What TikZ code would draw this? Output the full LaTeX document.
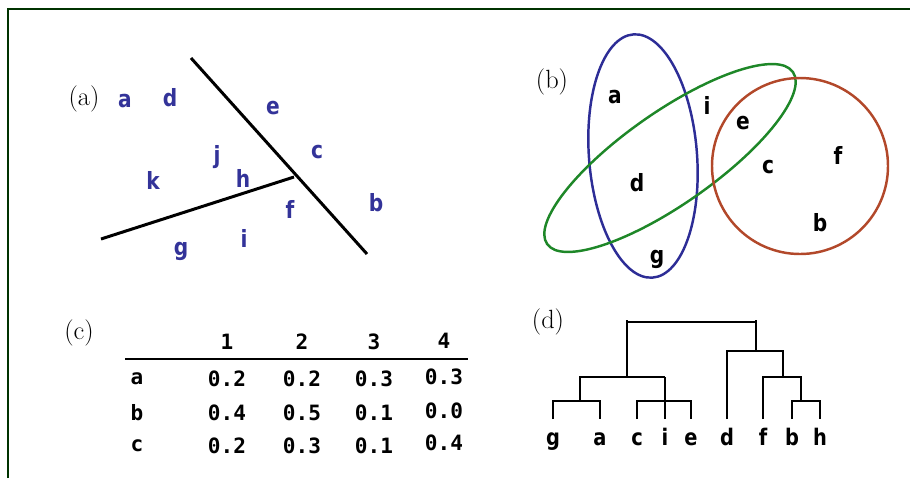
\documentclass[tikz,border=0pt]{standalone}
\usepackage{fontspec}
\newfontfamily\pixfont{DejaVu Sans}[FakeStretch=0.85]
\newfontfamily\pixmono{DejaVu Sans Mono}
\usetikzlibrary{calc}
\definecolor{framegreen}{RGB}{0,51,0}
\definecolor{ptblue}{RGB}{51,51,153}
\definecolor{setblue}{RGB}{45,45,150}
\definecolor{setgreen}{RGB}{30,135,40}
\definecolor{setred}{RGB}{178,72,42}
\tikzset{
  panel/.style={font=\fontsize{15}{18}\selectfont,inner sep=0pt},
  pt/.style={font=\pixfont\bfseries\fontsize{13.5}{15}\selectfont,text=ptblue,inner sep=0pt},
  mem/.style={font=\pixfont\bfseries\fontsize{13.5}{15}\selectfont,text=black,inner sep=0pt},
  leaf/.style={font=\pixfont\bfseries\fontsize{13}{15}\selectfont,anchor=base,inner sep=0pt},
  cell/.style={font=\pixmono\bfseries\fontsize{12}{14}\selectfont,inner sep=0pt},
  tree/.style={line width=1.1pt},
}

\begin{document}
\begin{tikzpicture}[x=0.02cm,y=-0.02cm]
        \useasboundingbox (0,0) rectangle (910,478);
        \draw[color=framegreen,line width=1.5pt] (8,478) -- (8,9) -- (910,9);

        \node[panel] (la) at (84,99) {(a)};
        \node[pt] (a1) at (125,101) {a};
        \node[pt] (d1) at (170,98) {d};
        \node[pt] (e1) at (273,108) {e};
        \node[pt] (c1) at (317,152) {c};
        \node[pt] (j1) at (217,157) {j};
        \node[pt] (k1) at (153,180) {k};
        \node[pt] (h1) at (243,178) {h};
        \node[pt] (f1) at (290,209) {f};
        \node[pt] (b1) at (376,203) {b};
        \node[pt] (g1) at (181,251) {g};
        \node[pt] (i1) at (244,238) {i};
        \coordinate (p1) at (191,58);
        \coordinate (p2) at (367,254);
        \coordinate (q1) at (101,239);
        \coordinate (q2) at (294,177);
        \draw[line width=1.7pt] (p1) -- (p2);
        \draw[line width=1.7pt] (q1) -- (q2);

        \node[panel] (lb) at (552,82) {(b)};
        \coordinate (cb) at (643,156);
        \coordinate (cg) at (670,158);
        \coordinate (cr) at (800,166);
        \draw[color=setblue,line width=1.4pt,rotate around={4.5:(cb)}] (cb) ellipse [x radius=54,y radius=122];
        \draw[color=setgreen,line width=1.4pt,rotate around={35:(cg)}] (cg) ellipse [x radius=150,y radius=46];
        \draw[color=setred,line width=1.4pt] (cr) circle [radius=88];
        \node[mem] (a2) at (615,97) {a};
        \node[mem] (i2) at (707,105) {i};
        \node[mem] (e2) at (743,123) {e};
        \node[mem] (f2) at (838,155) {f};
        \node[mem] (c2) at (768,167) {c};
        \node[mem] (d2) at (637,183) {d};
        \node[mem] (b2) at (820,223) {b};
        \node[mem] (g2) at (657,259) {g};

        \node[panel] (lc) at (79,333) {(c)};
        \node[cell] (t1) at (227,342) {1};
        \node[cell] (t2) at (302,342) {2};
        \node[cell] (t3) at (374,342) {3};
        \node[cell] (t4) at (444,341) {4};
        \coordinate (rl) at (125,359);
        \coordinate (rr) at (468,359);
        \draw[line width=1.1pt] (rl) -- (rr);
        \node[cell] (ra) at (137,379) {a};
        \node[cell] (rb) at (137,413) {b};
        \node[cell] (rc) at (137,446) {c};
        \node[cell] (a-1) at (227,379) {0.2};
        \node[cell] (a-2) at (302,379) {0.2};
        \node[cell] (a-3) at (374,379) {0.3};
        \node[cell] (a-4) at (444,377) {0.3};
        \node[cell] (b-1) at (227,413) {0.4};
        \node[cell] (b-2) at (302,413) {0.5};
        \node[cell] (b-3) at (374,413) {0.1};
        \node[cell] (b-4) at (444,411) {0.0};
        \node[cell] (c-1) at (227,446) {0.2};
        \node[cell] (c-2) at (302,446) {0.3};
        \node[cell] (c-3) at (374,446) {0.1};
        \node[cell] (c-4) at (444,443) {0.4};

        \node[panel] (ld) at (548,322) {(d)};
        \node[leaf] (g) at (553,445) {g};
        \node[leaf] (a) at (600,445) {a};
        \node[leaf] (c) at (637,445) {c};
        \node[leaf] (i) at (665,445) {i};
        \node[leaf] (e) at (691,445) {e};
        \node[leaf] (d) at (727,445) {d};
        \node[leaf] (f) at (763,445) {f};
        \node[leaf] (b) at (792,445) {b};
        \node[leaf] (h) at (820,445) {h};
        \coordinate (lv) at (0,419);
        \coordinate (root) at (690,322);
        \coordinate (ga) at (580,401);
        \coordinate (ce) at (665,401);
        \coordinate (lft) at (627,377);
        \coordinate (rgt) at (756,351);
        \coordinate (fbh) at (783,377);
        \coordinate (bh) at (801,401);
        \draw[tree] (g |- lv) |- (ga) -| (a |- lv);
        \draw[tree] (c |- lv) |- (ce) -| (e |- lv);
        \draw[tree] (i |- lv) -- (i |- lft);
        \draw[tree] (ga) |- (i |- lft);
        \draw[tree] (lft) -- ($(lft |- root)+(0,-2)$);
        \draw[tree] (lft |- root) -- (rgt |- root);
        \draw[tree] ($(rgt |- root)+(0,-2)$) -- (rgt);
        \draw[tree] (d |- lv) |- (rgt) -| (fbh);
        \draw[tree] (f |- lv) |- (fbh) -| (bh);
        \draw[tree] (b |- lv) |- (bh) -| (h |- lv);
    \end{tikzpicture}
\end{document}
